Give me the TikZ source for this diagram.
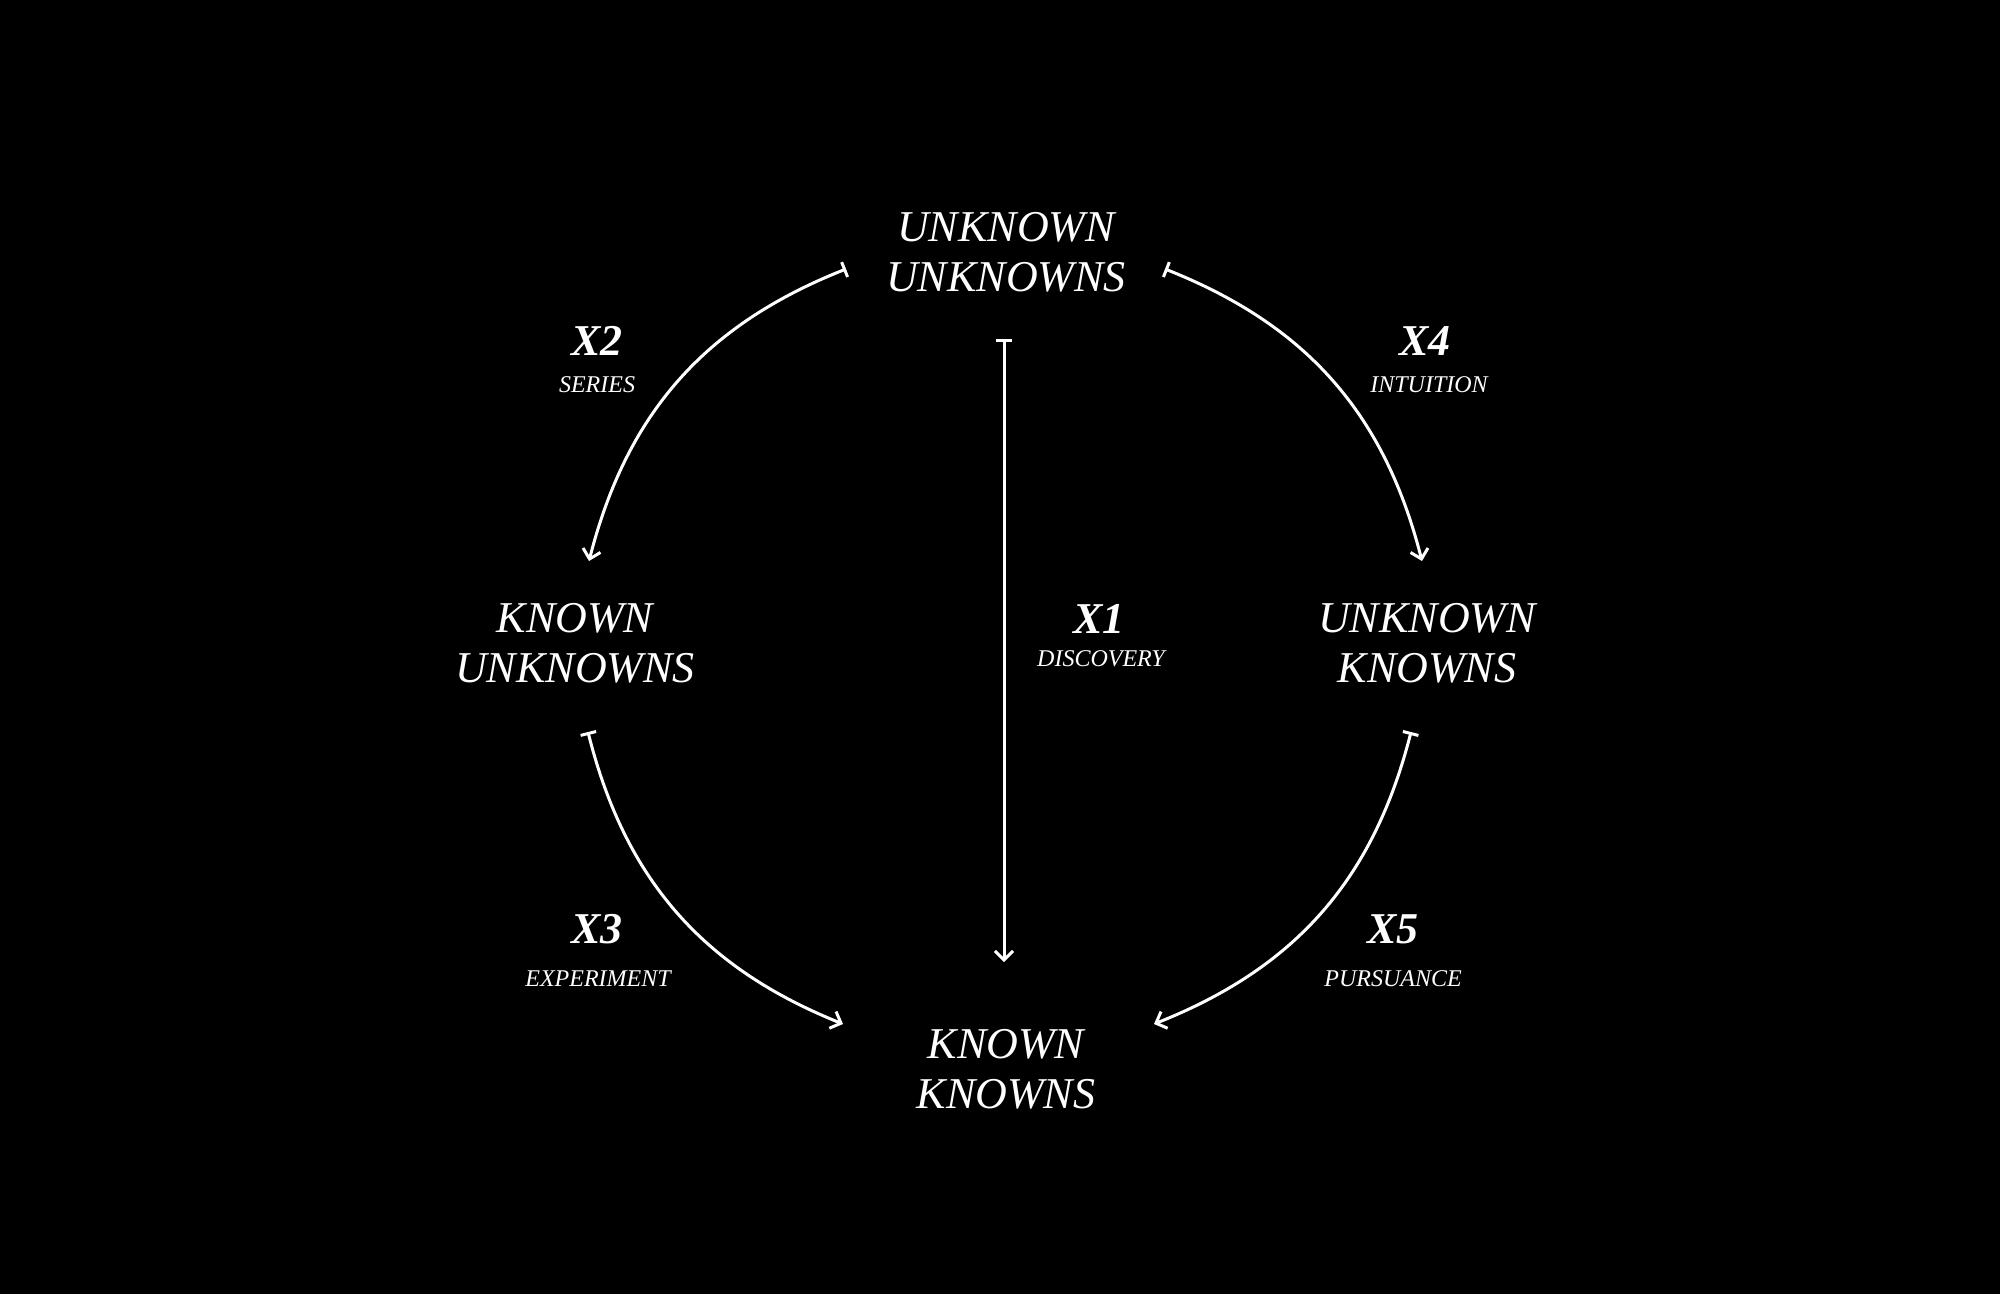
\documentclass[tikz,border=0pt]{standalone}
\usepackage{fontspec}
\setmainfont{Liberation Serif}
\usetikzlibrary{arrows.meta}
\tikzset{
  big/.style={text=white, align=center, inner sep=0pt, font=\fontsize{44}{50}\selectfont\itshape},
  xnum/.style={text=white, anchor=base, inner sep=0pt, font=\fontsize{44}{50}\selectfont\bfseries\itshape},
  xword/.style={text=white, anchor=base, inner sep=0pt, font=\fontsize{24}{28}\selectfont\itshape},
  conn/.style={draw=white, line width=3pt,
    {Bar[width=16pt,line width=3pt]}-{Straight Barb[length=9pt,width=18pt,line width=3pt]}}
}
\begin{document}
\begin{tikzpicture}[x=1pt,y=-1pt]
\path[fill=black] (0,0) rectangle (2000,1294);
\useasboundingbox (0,0) rectangle (2000,1294);

\node[big] (uu) at (1006,252) {UNKNOWN\\UNKNOWNS};
\node[big] (ku) at (575,643) {KNOWN\\UNKNOWNS};
\node[big] (uk) at (1427,643) {UNKNOWN\\KNOWNS};
\node[big] (kk) at (1006,1069) {KNOWN\\KNOWNS};

\node[xnum] (x1) at (1099,633) {X1};
\node[xword] (w1) at (1101,666) {DISCOVERY};
\node[xnum] (x2) at (597,355) {X2};
\node[xword] (w2) at (597,392) {SERIES};
\node[xnum] (x3) at (597,943) {X3};
\node[xword] (w3) at (598,986) {EXPERIMENT};
\node[xnum] (x4) at (1425,355) {X4};
\node[xword] (w4) at (1429,392) {INTUITION};
\node[xnum] (x5) at (1393,943) {X5};
\node[xword] (w5) at (1393,986) {PURSUANCE};

\coordinate (a1s) at (1004,339);
\coordinate (a1e) at (1004,962);
\coordinate (a2s) at (846,269);
\coordinate (a2e) at (589,561);
\coordinate (a3s) at (588,732);
\coordinate (a3e) at (843,1024);
\coordinate (a4s) at (1165,269);
\coordinate (a4e) at (1422,561);
\coordinate (a5s) at (1411,732);
\coordinate (a5e) at (1154,1024);

\draw[conn] (a1s) -- (a1e);
\draw[conn] (a2s) to[bend right=27] (a2e);
\draw[conn] (a3s) to[bend right=27] (a3e);
\draw[conn] (a4s) to[bend left=27] (a4e);
\draw[conn] (a5s) to[bend left=27] (a5e);
\end{tikzpicture}
\end{document}
